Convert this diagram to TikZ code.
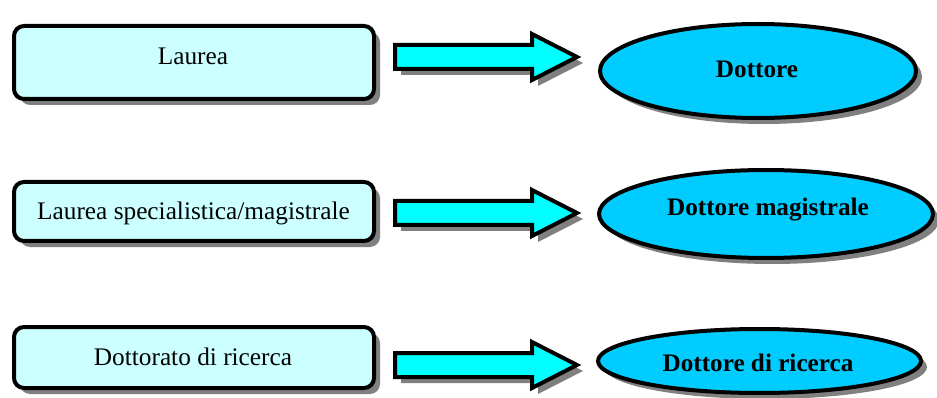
\documentclass[tikz,border=0pt]{standalone}
\usepackage{fontspec}
\setmainfont{Liberation Serif}
\usetikzlibrary{shadows,shapes.geometric}
\definecolor{boxfill}{HTML}{CCFFFF}
\definecolor{arrowfill}{HTML}{00FFFF}
\definecolor{ovalfill}{HTML}{00CCFF}
\definecolor{shadegray}{HTML}{808080}
\begin{document}
\begin{tikzpicture}[x=1pt,y=-1pt,
  shadowed/.style={drop shadow={shadow xshift=6pt,shadow yshift=-6pt,fill=shadegray,opacity=1}},
  degree/.style={draw=black,line width=4pt,fill=boxfill,rounded corners=10pt,
    minimum width=360pt,inner sep=0pt,shadowed},
  title/.style={draw=black,line width=4pt,fill=ovalfill,ellipse,inner sep=0pt,shadowed},
  plain/.style={font=\fontsize{25.3}{29}\selectfont,anchor=base,inner sep=0pt},
  strong/.style={font=\fontsize{25.2}{29}\selectfont\bfseries,anchor=base,inner sep=0pt},
  arrowbody/.style={draw=black,line width=4pt,fill=arrowfill,miter limit=10,shadowed},
  fatarrow/.pic={\path[arrowbody] (395,-12) -- (532,-12) -- (532,-23) -- (577,0)
    -- (532,23) -- (532,12) -- (395,12) -- cycle;}
]
\useasboundingbox (0,0) rectangle (937,398);

% degrees (left column)
\node[degree,minimum height=73pt] (b1) at (194,62.5) {};
\node[degree,minimum height=59pt] (b2) at (194,211.5) {};
\node[degree,minimum height=61pt] (b3) at (194,357.5) {};

% titles (right column)
\node[title,minimum width=316pt,minimum height=94pt] (e1) at (758,71) {};
\node[title,minimum width=334pt,minimum height=88pt] (e2) at (766,214) {};
\node[title,minimum width=323pt,minimum height=64pt] (e3) at (759.5,361) {};

% block arrows between the columns
\pic at (0,57) {fatarrow};
\pic at (0,213) {fatarrow};
\pic at (0,365) {fatarrow};

% labels
\node[plain] (t1) at (193,65) {Laurea};
\node[plain] (t2) at (193.5,220) {Laurea specialistica/magistrale};
\node[plain] (t3) at (193,365) {Dottorato di ricerca};
\node[strong] (u1) at (757,78) {Dottore};
\node[strong] (u2) at (768,215) {Dottore magistrale};
\node[strong] (u3) at (758,371) {Dottore di ricerca};
\end{tikzpicture}
\end{document}
